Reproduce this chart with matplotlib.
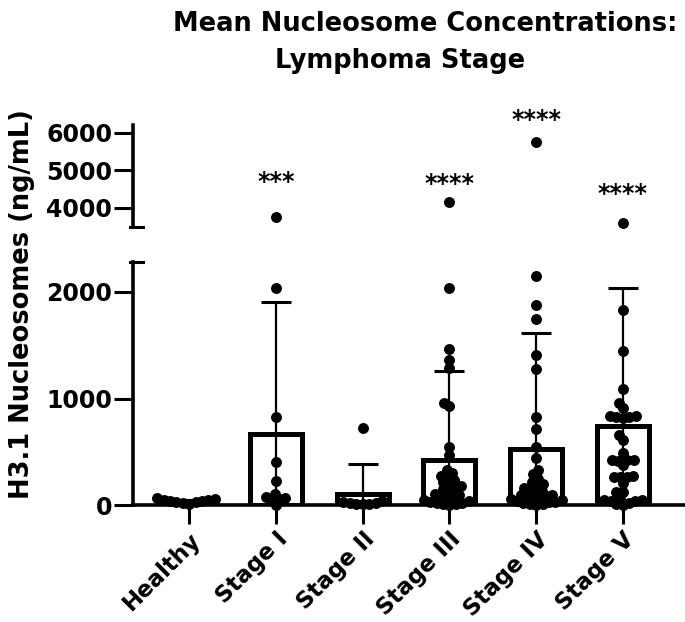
import numpy as np
import matplotlib.pyplot as plt

plt.rcParams['font.family'] = ['DejaVu Sans']
plt.rcParams['font.weight'] = 'bold'

categories = ["Healthy", "Stage I", "Stage II", "Stage III", "Stage IV", "Stage V"]

healthy = [22, 40, 55, 30, 68, 45, 18, 60, 35, 50]
stage1 = [3745, 2030, 825, 410, 232, 110, 50, 70, 80, 5, 60]
stage2 = [722, 15, 30, 10, 25, 20, 40, 12]
stage3 = [4145, 2030, 1460, 1360, 1285, 960, 930, 550, 470, 330, 300, 280, 260,
          240, 220, 200, 180, 170, 150, 130, 110, 100, 90, 75, 60, 50, 40, 30,
          25, 20, 15, 10, 5]
stage4 = [5750, 2150, 1875, 1745, 1410, 1275, 830, 715, 550, 445, 330, 290, 250,
          220, 200, 180, 160, 150, 140, 120, 100, 100, 90, 80, 70, 60, 60, 50,
          40, 30, 30, 20, 15, 10, 5]
stage5 = [3600, 1830, 1445, 1090, 955, 910, 840, 835, 830, 825, 820, 660, 615,
          490, 430, 430, 425, 420, 380, 275, 270, 270, 265, 210, 130, 125, 60,
          55, 50, 45, 40, 20, 10, 5]
groups = [healthy, stage1, stage2, stage3, stage4, stage5]

means = [40, 665, 110, 421, 533, 746]
sds = [15, 1235, 281, 837, 1084, 1286]

stars = ["", "***", "", "****", "****", "****"]
star_y = [0, 4700, 0, 4630, 6330, 4370]

lo_lim = (0, 2280)
hi_lim = (3500, 6200)
x_lim = (-0.65, 5.7)

fig = plt.figure(figsize=(6.85, 6.22), dpi=100)
ax_lo = fig.add_axes([0.194, 0.1873, 0.804, 0.392])
ax_hi = fig.add_axes([0.194, 0.6355, 0.804, 0.1635])

# pixel scale of the lower panel, used to spread the dots sideways
W, H = fig.get_size_inches() * fig.dpi
px_x = 0.804 * W / (x_lim[1] - x_lim[0])
px_y = 0.392 * H / (lo_lim[1] - lo_lim[0])


def swarm(vals, d=6.5):
    placed = []
    offs = np.zeros(len(vals))
    for i in np.argsort(vals):
        y = vals[i] * px_y
        cands = [0.0]
        for xp, yp in placed:
            dy = abs(y - yp)
            if dy < d:
                dx = np.sqrt(d * d - dy * dy)
                cands += [xp - dx, xp + dx]
        cands.sort(key=abs)
        for c in cands:
            if all((c - xp) ** 2 + (y - yp) ** 2 >= d * d - 1e-6 for xp, yp in placed):
                break
        placed.append((c, y))
        offs[i] = c / px_x
    return offs


x = np.arange(len(categories))

ax_lo.bar(x, means, width=0.6, facecolor="white", edgecolor="black",
          linewidth=3.6, zorder=2)
ax_lo.errorbar(x, means, yerr=sds, fmt="none", ecolor="black", elinewidth=1.6,
               capsize=10.5, capthick=2.2, zorder=3)

for i, vals in enumerate(groups):
    vals = np.array(vals, dtype=float)
    low = vals[vals < lo_lim[1]]
    high = vals[vals >= hi_lim[0]]
    ax_lo.scatter(i + swarm(low), low, s=62, color="black", zorder=4,
                  clip_on=False, linewidths=0)
    ax_hi.scatter(np.full(len(high), i), high, s=62, color="black", zorder=4,
                  clip_on=False, linewidths=0)
    if stars[i]:
        ax_hi.text(i, star_y[i], stars[i], ha="center", va="center",
                   fontsize=17, clip_on=False)

for ax in (ax_lo, ax_hi):
    ax.set_xlim(*x_lim)
    for s in ("top", "right"):
        ax.spines[s].set_visible(False)
    ax.spines["left"].set_linewidth(2.6)
    ax.spines["bottom"].set_linewidth(2.6)
    ax.tick_params(axis="y", length=14, width=2.2, labelsize=17, pad=1)

ax_lo.set_ylim(*lo_lim)
ax_lo.set_yticks([0, 1000, 2000])
ax_lo.set_xticks(x)
ax_lo.set_xticklabels(categories, rotation=45, ha="right",
                      rotation_mode="anchor", fontsize=16.5)
ax_lo.tick_params(axis="x", length=14, width=2.2, pad=2)

ax_hi.set_ylim(*hi_lim)
ax_hi.set_yticks([4000, 5000, 6000])
ax_hi.spines["bottom"].set_visible(False)
ax_hi.set_xticks([])

# break marks at the ends of the split axis
ax_hi.plot([-0.006, 0.018], [0, 0], transform=ax_hi.transAxes, color="black",
           lw=2.2, clip_on=False)
ax_lo.plot([-0.006, 0.018], [1, 1], transform=ax_lo.transAxes, color="black",
           lw=2.2, clip_on=False)

fig.text(0.032, 0.511, "H3.1 Nucleosomes (ng/mL)", rotation=90, ha="center",
         va="center", fontsize=18.5)
fig.text(0.62, 0.962, "Mean Nucleosome Concentrations:", ha="center",
         va="center", fontsize=18.5)
fig.text(0.584, 0.902, "Lymphoma Stage", ha="center", va="center", fontsize=18.5)

fig.savefig("out.png", dpi=100)
